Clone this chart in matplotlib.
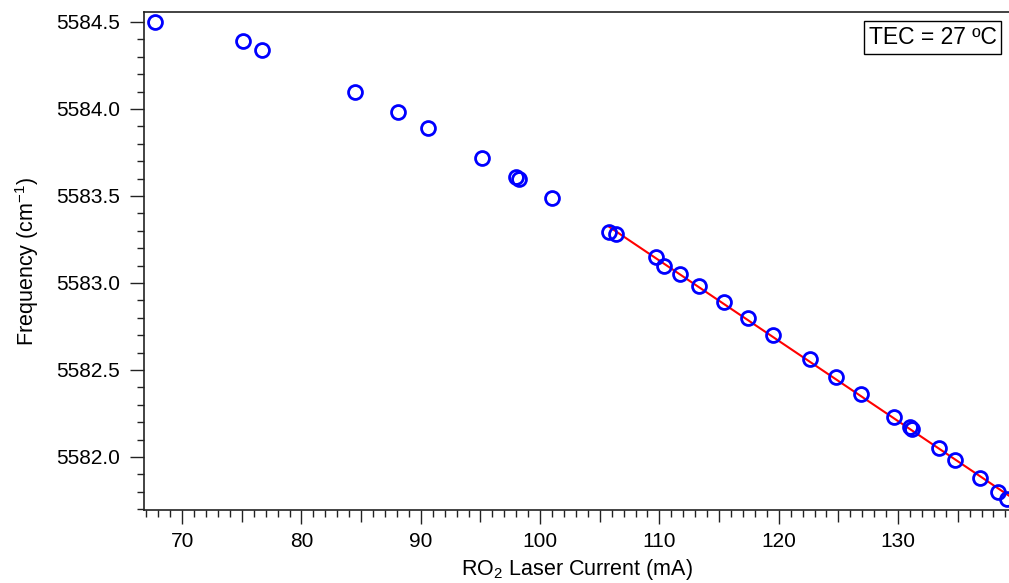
import numpy as np
import matplotlib
matplotlib.use("Agg")
import matplotlib.pyplot as plt
from matplotlib.ticker import MultipleLocator

plt.rcParams['font.family'] = ['Liberation Sans', 'DejaVu Sans']
plt.rcParams['mathtext.fontset'] = 'custom'
plt.rcParams['mathtext.rm'] = 'Liberation Sans'
plt.rcParams['mathtext.it'] = 'Liberation Sans:italic'

# laser current (mA) and measured frequency (cm-1)
current = [67.7, 75.1, 76.7, 84.5, 88.1, 90.6, 95.1, 98.0, 98.25, 101.0,
           105.8, 106.4, 109.7, 110.4, 111.7, 113.3, 115.4, 117.4, 119.5,
           122.6, 124.8, 126.9, 129.7, 131.0, 131.2, 133.4, 134.8, 136.9,
           138.4, 139.1]
frequency = [5584.50, 5584.39, 5584.34, 5584.10, 5583.98, 5583.89, 5583.72,
             5583.61, 5583.60, 5583.49, 5583.29, 5583.28, 5583.15, 5583.10,
             5583.05, 5582.98, 5582.89, 5582.80, 5582.70, 5582.56, 5582.46,
             5582.36, 5582.23, 5582.17, 5582.16, 5582.05, 5581.98, 5581.88,
             5581.80, 5581.76]
fit_start = 105.0  # linear fit only over the upper current range
annotation = "TEC = 27 ºC"

x = np.array(current)
y = np.array(frequency)

fig = plt.figure(figsize=(10.09, 5.83), dpi=100)
ax = fig.add_axes([144 / 1009, 1 - 510 / 583, 865 / 1009, 498 / 583])

xlim = (66.8, 139.3)
ylim = (5581.695, 5584.557)

# linear fit for the high-current points
mask = x > fit_start
coef = np.polyfit(x[mask], y[mask], 1)
xf = np.array([x[mask].min(), xlim[1]])
ax.plot(xf, np.polyval(coef, xf), color='red', lw=1.5, zorder=2)

ax.plot(x, y, 'o', mfc='none', mec='#0000ff', mew=2.0, ms=10, zorder=3)

ax.set_xlim(*xlim)
ax.set_ylim(*ylim)

ax.xaxis.set_major_locator(MultipleLocator(10))
ax.xaxis.set_minor_locator(MultipleLocator(1))
ax.yaxis.set_major_locator(MultipleLocator(0.5))
ax.yaxis.set_minor_locator(MultipleLocator(0.1))
ax.yaxis.set_major_formatter(plt.FormatStrFormatter('%.1f'))

ax.tick_params(which='major', direction='out', length=10, width=1,
               labelsize=15, color='#222222')
ax.tick_params(which='minor', direction='out', length=5, width=1,
               color='#222222')
ax.tick_params(axis='x', which='major', pad=6)
ax.tick_params(axis='y', which='major', pad=7)

# slightly longer ticks at the 5 mA marks
minor_locs = ax.xaxis.get_minorticklocs()
for tick, loc in zip(ax.xaxis.get_minor_ticks(len(minor_locs)), minor_locs):
    if abs(loc % 10 - 5) < 1e-6:
        tick.tick1line.set_markersize(8.5)

for side in ['left', 'bottom', 'top']:
    ax.spines[side].set_linewidth(1.2)
    ax.spines[side].set_color('#222222')
ax.spines['right'].set_visible(False)

ax.set_xlabel(r'RO$_2$ Laser Current (mA)', fontsize=15.5, labelpad=4)
ax.set_ylabel(r'Frequency (cm$^{-1}$)', fontsize=15.5, labelpad=11)

ax.text(0.986, 0.972, annotation, transform=ax.transAxes, ha='right',
        va='top', fontsize=16.5,
        bbox=dict(boxstyle='square,pad=0.2', fc='white', ec='black', lw=1))

fig.savefig('out.png', dpi=100)
